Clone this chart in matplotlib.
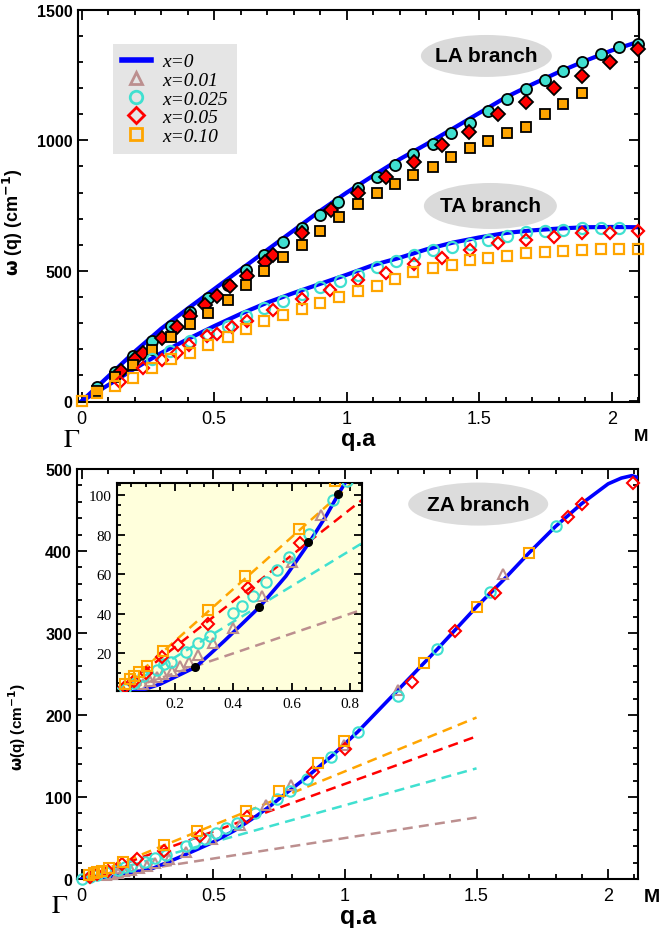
import numpy as np
import matplotlib.pyplot as plt
from matplotlib.lines import Line2D
from matplotlib.patches import Ellipse
from matplotlib.ticker import MultipleLocator

plt.rcParams['font.family'] = ['Liberation Sans', 'DejaVu Sans']

blue = '#0000ff'
brown = '#bc8f8f'
turq = '#40e0d0'
red = '#ff0000'
orange = '#ffa500'

########################
# top panel: LA / TA branches
########################
la_line_q = [0, 0.1, 0.2, 0.3, 0.4, 0.5, 0.6, 0.7, 0.8, 0.9, 1.0, 1.1, 1.2, 1.3, 1.4, 1.5, 1.6, 1.7, 1.8, 1.9, 2.0, 2.1]
la_line_w = [0, 95, 190, 278, 355, 430, 505, 580, 655, 730, 800, 865, 928, 985, 1045, 1105, 1165, 1215, 1262, 1305, 1345, 1378]

la_c_q = [0.057, 0.126, 0.195, 0.264, 0.337, 0.409, 0.478, 0.551, 0.62, 0.689, 0.761, 0.83, 0.90, 0.968, 1.044, 1.113, 1.182,
          1.251, 1.325, 1.392, 1.465, 1.534, 1.606, 1.677, 1.748, 1.817, 1.889, 1.958, 2.029, 2.1]
la_c_w = [54, 112, 175, 230, 287, 341, 396, 447, 502, 561, 612, 665, 715, 765, 816, 858, 906,
          946, 986, 1027, 1068, 1114, 1158, 1196, 1233, 1267, 1301, 1333, 1359, 1369]

la_d_q = [0.147, 0.2, 0.233, 0.302, 0.358, 0.41, 0.466, 0.512, 0.56, 0.623, 0.69, 0.72, 0.83, 0.94, 1.044, 1.148, 1.254,
          1.358, 1.463, 1.57, 1.677, 1.782, 1.889, 1.994, 2.1]
la_d_w = [115, 160, 185, 243, 283, 325, 370, 402, 440, 481, 535, 561, 644, 733, 800, 861, 919,
          982, 1033, 1100, 1148, 1202, 1248, 1301, 1349]

la_s_q = [0.057, 0.126, 0.195, 0.264, 0.337, 0.409, 0.478, 0.551, 0.62, 0.689, 0.761, 0.83, 0.90, 0.972, 1.044, 1.113,
          1.182, 1.251, 1.325, 1.392, 1.465, 1.534, 1.606, 1.677, 1.748, 1.817, 1.889]
la_s_w = [39, 93, 140, 198, 246, 296, 338, 389, 447, 498, 551, 600, 651, 705, 756, 800,
          832, 867, 899, 935, 969, 999, 1030, 1050, 1100, 1139, 1180]

ta_line_q = [0, 0.1, 0.2, 0.3, 0.4, 0.5, 0.6, 0.7, 0.8, 0.9, 1.0, 1.1, 1.2, 1.3, 1.4, 1.5, 1.6, 1.7, 1.8, 1.9, 2.0, 2.1]
ta_line_w = [0, 62, 125, 185, 238, 288, 335, 378, 415, 450, 485, 522, 550, 582, 608, 628, 645, 655, 662, 667, 668, 667]

ta_c_q = [0.264, 0.334, 0.409, 0.478, 0.551, 0.62, 0.689, 0.761, 0.83, 0.90, 0.975, 1.044, 1.113, 1.185, 1.255, 1.325,
          1.396, 1.465, 1.534, 1.606, 1.677, 1.748, 1.817, 1.889, 1.958, 2.029]
ta_c_w = [162, 192, 230, 258, 287, 326, 357, 385, 412, 437, 462, 482, 513, 538, 559, 578,
          592, 603, 619, 635, 648, 654, 657, 666, 666, 666]

ta_d_q = [0.145, 0.233, 0.302, 0.358, 0.403, 0.472, 0.512, 0.566, 0.623, 0.72, 0.83, 0.937, 1.044, 1.148, 1.254, 1.358,
          1.465, 1.57, 1.677, 1.782, 1.889, 1.994, 2.1]
ta_d_w = [73, 128, 157, 185, 217, 249, 258, 283, 309, 351, 393, 427, 466, 491, 527, 549,
          578, 606, 619, 629, 644, 644, 654]

ta_s_q = [0, 0.057, 0.126, 0.195, 0.264, 0.337, 0.409, 0.478, 0.551, 0.62, 0.689, 0.761, 0.83, 0.90, 0.972, 1.044, 1.113,
          1.182, 1.251, 1.325, 1.396, 1.465, 1.534, 1.606, 1.677, 1.748, 1.817, 1.889, 1.958, 2.029, 2.1]
ta_s_w = [0, 30, 60, 90, 128, 160, 185, 217, 246, 277, 306, 329, 354, 376, 398, 421, 443,
          468, 495, 510, 523, 540, 549, 557, 568, 572, 577, 580, 583, 583, 585]

########################
# bottom panel: ZA branch
########################
za_line_q = [0, 0.05, 0.1, 0.15, 0.2, 0.27, 0.32, 0.37, 0.42, 0.49, 0.58, 0.66, 0.72, 0.76, 0.85, 0.95, 1.05, 1.2,
             1.35, 1.5, 1.6, 1.7, 1.8, 1.9, 2.0, 2.05, 2.09, 2.11]
za_line_w = [0, 0.4, 2, 4.5, 8, 13, 19.6, 26.4, 33.5, 43.5, 59, 76, 90, 100.5, 123, 150, 180, 230,
             280, 332, 364, 398, 430, 458, 482, 489, 492, 490]

za_t_q = [0.091, 0.114, 0.137, 0.16, 0.188, 0.217, 0.249, 0.28, 0.33, 0.398, 0.497, 0.6, 0.7, 0.797, 0.996, 1.2, 1.599]
za_t_w = [4.5, 6.2, 7.9, 9.5, 11.2, 13.4, 15.8, 19.3, 25, 32.6, 48.8, 66, 90, 115, 163, 230, 372]

za_c_q = [0.0, 0.03, 0.06, 0.091, 0.137, 0.163, 0.187, 0.239, 0.279, 0.32, 0.398, 0.428, 0.468, 0.512, 0.549, 0.59,
          0.66, 0.743, 0.791, 0.857, 0.949, 1.05, 1.2, 1.348, 1.551, 1.80]
za_c_w = [0, 2, 5, 8.4, 11.4, 14.4, 15.6, 20.6, 25.3, 28.9, 40.4, 43.7, 49.1, 55.9, 62.1, 68.8,
          80.3, 97.4, 107, 122, 149, 179, 223, 280, 350, 430]

za_d_q = [0.03, 0.06, 0.1, 0.154, 0.211, 0.314, 0.451, 0.628, 0.88, 1.0, 1.255, 1.418, 1.572, 1.846, 1.901, 2.093]
za_d_w = [3, 6, 10, 18, 24.2, 34.8, 53, 76, 130, 159, 240, 302, 349, 442, 457, 483]

za_s_q = [0.029, 0.046, 0.06, 0.078, 0.105, 0.158, 0.314, 0.44, 0.626, 0.75, 0.899, 0.996, 1.302, 1.5, 1.699]
za_s_w = [4.5, 7, 8.5, 10.4, 13.4, 21.3, 42, 58.9, 83.1, 107, 141, 168, 264, 332, 398]

# sound-velocity dashed lines (x=0.01, 0.025, 0.05, 0.10)
dash_q = [0, 1.5]
dash_end = [75, 135, 174, 197]
dash_col = [brown, turq, red, orange]

# crossing points in the inset
dot_q = [0.27, 0.489, 0.657, 0.76]
dot_w = [12.9, 43.5, 76.4, 100.5]

fig = plt.figure(figsize=(6.62, 9.29), dpi=100)
ax1 = fig.add_axes([0.1178, 0.5662, 0.848, 0.422])
ax2 = fig.add_axes([0.1170, 0.0527, 0.847, 0.4413])
ins = fig.add_axes([0.1772, 0.2548, 0.3696, 0.2239], facecolor='#ffffdc')
ins.set_zorder(5)


def style(ax, lmaj, lmin):
    for s in ax.spines.values():
        s.set_linewidth(1.5)
    ax.tick_params(which='both', direction='in', top=True, right=True, width=1.3)
    ax.tick_params(which='major', length=lmaj)
    ax.tick_params(which='minor', length=lmin)


# ---- top
ax1.plot(la_line_q, la_line_w, color=blue, lw=3, zorder=2)
ax1.plot(ta_line_q, ta_line_w, color=blue, lw=3, zorder=2)
mk = dict(ls='none', ms=8, mew=1.3, mec='black', clip_on=False, zorder=3)
ax1.plot(la_c_q, la_c_w, marker='o', mfc=turq, **mk)
ax1.plot(la_d_q, la_d_w, marker='D', mfc=red, **dict(mk, ms=7))
ax1.plot(la_s_q, la_s_w, marker='s', mfc=orange, **dict(mk, ms=7.5))
mo = dict(ls='none', mfc='none', mew=1.6, clip_on=False, zorder=3)
ax1.plot(ta_c_q, ta_c_w, marker='o', mec=turq, ms=8, **mo)
ax1.plot(ta_d_q, ta_d_w, marker='D', mec=red, ms=6.5, **mo)
ax1.plot(ta_s_q, ta_s_w, marker='s', mec=orange, ms=7.5, **mo)

ax1.set_xlim(-0.014, 2.104)
ax1.set_ylim(-3, 1500)
style(ax1, 7, 3.5)
ax1.xaxis.set_minor_locator(MultipleLocator(0.1))
ax1.yaxis.set_minor_locator(MultipleLocator(100))
ax1.set_xticks([0, 0.5, 1, 1.5, 2])
ax1.set_xticklabels(['0', '0.5', '1', '1.5', '2'], fontsize=13)
ax1.set_yticks([0, 500, 1000, 1500])
ax1.set_yticklabels(['0', '500', '1000', '1500'], fontsize=11.5, fontweight='bold')
ax1.tick_params(axis='x', pad=6)
ax1.tick_params(axis='y', pad=4)
ax1.set_xlabel('q.a', fontsize=17, fontweight='bold', labelpad=0)
ax1.set_ylabel(r'$\mathbf{\omega}$ (q) (cm$^{\mathbf{-1}}$)', fontsize=13, fontweight='bold')
ax1.yaxis.set_label_coords(-0.094, 0.46)

for cx, cy, w, h, txt in [(0.7275, 0.8827, 0.2333, 0.107, 'LA branch'),
                          (0.7346, 0.50, 0.2369, 0.1173, 'TA branch')]:
    ax1.add_patch(Ellipse((cx, cy), w, h, transform=ax1.transAxes, fc='#dadada', ec='none', zorder=1))
    ax1.text(cx, cy, txt, transform=ax1.transAxes, ha='center', va='center', fontsize=15, fontweight='bold', zorder=1.5)

handles = [Line2D([], [], color=blue, lw=4),
           Line2D([], [], ls='none', marker='^', mfc='none', mec=brown, ms=9, mew=2),
           Line2D([], [], ls='none', marker='o', mfc='none', mec=turq, ms=9, mew=2),
           Line2D([], [], ls='none', marker='D', mfc='none', mec=red, ms=8, mew=2),
           Line2D([], [], ls='none', marker='s', mfc='none', mec=orange, ms=9, mew=2)]
labels = ['x=0', 'x=0.01', 'x=0.025', 'x=0.05', 'x=0.10']
ax1.legend(handles, labels, loc='upper left', bbox_to_anchor=(0.062, 0.913), borderaxespad=0,
           frameon=True, fancybox=False, facecolor='#e5e5e5', edgecolor='none', framealpha=1,
           prop=dict(family='Liberation Serif', style='italic', size=14),
           handlelength=1.5, handletextpad=0.6, labelspacing=0.05, borderpad=0.45)

fig.text(72 / 662, 1 - 441 / 929, r'$\Gamma$', fontsize=19, ha='center', va='center',
         family='Liberation Serif', math_fontfamily='stix')
fig.text(641 / 662, 1 - 437 / 929, 'M', fontsize=12.5, fontweight='bold', ha='center', va='center')

# ---- bottom
for ax in (ax2, ins):
    for e, c in zip(dash_end, dash_col):
        ax.plot(dash_q, [0, e], color=c, lw=1.8, dashes=(4, 2.5), zorder=2)
    ax.plot(za_line_q, za_line_w, color=blue, lw=2.6, zorder=3)
    mz = dict(ls='none', mfc='none', mew=1.5, clip_on=False, zorder=4)
    ax.plot(za_t_q, za_t_w, marker='^', mec=brown, ms=7, **mz)
    ax.plot(za_c_q, za_c_w, marker='o', mec=turq, ms=7.5, **mz)
    ax.plot(za_d_q, za_d_w, marker='D', mec=red, ms=6, **mz)
    ax.plot(za_s_q, za_s_w, marker='s', mec=orange, ms=7, **mz)

ins.plot(dot_q, dot_w, ls='none', marker='o', color='black', ms=5.5, zorder=5)
for ln in ins.lines:
    ln.set_clip_on(True)

ax2.set_xlim(-0.016, 2.114)
ax2.set_ylim(0, 500)
style(ax2, 7, 3.5)
ax2.xaxis.set_minor_locator(MultipleLocator(0.1))
ax2.yaxis.set_minor_locator(MultipleLocator(20))
ax2.set_xticks([0, 0.5, 1, 1.5, 2])
ax2.set_xticklabels(['0', '0.5', '1', '1.5', '2'], fontsize=13)
ax2.set_yticks([0, 100, 200, 300, 400, 500])
ax2.set_yticklabels(['0', '100', '200', '300', '400', '500'], fontsize=11.5, fontweight='bold')
ax2.tick_params(axis='x', pad=6)
ax2.tick_params(axis='y', pad=4)
ax2.set_xlabel('q.a', fontsize=18, fontweight='bold', labelpad=0)
ax2.set_ylabel(r'$\mathbf{\omega}$(q) (cm$^{\mathbf{-1}}$)', fontsize=11, fontweight='bold')
ax2.yaxis.set_label_coords(-0.088, 0.373)

ax2.add_patch(Ellipse((0.7147, 0.9146), 0.2497, 0.1049, transform=ax2.transAxes, fc='#dcdcdc', ec='none', zorder=1))
ax2.text(0.7147, 0.9146, 'ZA branch', transform=ax2.transAxes, ha='center', va='center',
         fontsize=15, fontweight='bold', zorder=1.5)

fig.text(60 / 662, 1 - 907 / 929, r'$\Gamma$', fontsize=19, ha='center', va='center',
         family='Liberation Serif', math_fontfamily='stix')
fig.text(652 / 662, 1 - 898 / 929, 'M', fontsize=14, fontweight='bold', ha='center', va='center')

# ---- inset
ins.set_xlim(0.002, 0.841)
ins.set_ylim(0.8, 106)
style(ins, 6, 3)
ins.xaxis.set_minor_locator(MultipleLocator(0.05))
ins.yaxis.set_minor_locator(MultipleLocator(5))
ins.set_xticks([0.2, 0.4, 0.6, 0.8])
ins.set_yticks([20, 40, 60, 80, 100])
ins.set_xticklabels(['0.2', '0.4', '0.6', '0.8'], family='Liberation Serif', fontsize=11)
ins.set_yticklabels(['20', '40', '60', '80', '100'], family='Liberation Serif', fontsize=11)
ins.tick_params(pad=4)

fig.savefig('out.png', dpi=100)
